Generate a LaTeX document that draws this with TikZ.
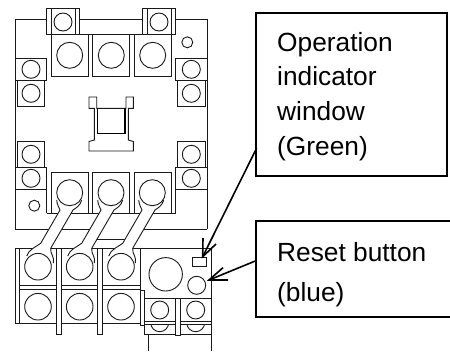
\documentclass[tikz,border=0pt]{standalone}
\usepackage{fontspec}
\setmainfont{Liberation Sans}
\tikzset{
 lin/.style={draw=black!90,line width=0.9pt,fill=white},
 lab/.style={draw=black,line width=1.2pt,fill=white,inner sep=0pt},
 txt/.style={font=\fontsize{26.3pt}{34.7pt}\selectfont,align=left,anchor=north west,inner sep=0pt},
 one/.style={font=\fontsize{26.3pt}{30pt}\selectfont,anchor=base west,inner sep=0pt},
 arr/.style={draw=black,line width=1.6pt}
}
\newcommand{\Circ}[3]{\draw[lin] (#1,#2) circle[radius=#3];}
\newcommand{\Rc}[4]{\draw[lin] (#1,#2) rectangle (#3,#4);}
\begin{document}
\begin{tikzpicture}[x=1pt,y=-1pt]
\useasboundingbox (0,0) rectangle (450,351);
% main body, without its lower edge
\fill[white] (15,19) rectangle (207.3,229);
\draw[lin,fill=none] (15,229)--(15,19)--(207.3,19)--(207.3,229);
\draw[lin] (15,229.3)--(55,229.3) (60,229.3)--(92,229.3) (97,239.3)--(127,239.3) (140,229.3)--(207.3,229.3);
% top terminal blocks
\Rc{46.7}{8}{79.3}{34.3}
\draw[lin] (51,8)--(51,34) (75.3,8)--(75.3,34);
\Rc{142.7}{8}{175.3}{34.3}
\draw[lin] (147,8)--(147,34) (171.3,8)--(171.3,34);
\draw[lin] (46.7,34.3)--(175.3,34.3);
\Circ{63}{22}{9}
\Circ{159}{22}{9}
\Rc{51}{34.3}{88.3}{76}\Rc{92.7}{34.3}{129.3}{76}\Rc{134}{34.3}{171.3}{76}
\Circ{69.7}{55.3}{13}\Circ{111.3}{55.3}{13}\Circ{152.7}{55.3}{13}
\Circ{187.3}{42.3}{5.5}
% side tabs top
\Rc{15}{58.7}{46.7}{80}\Rc{17.3}{80}{44.3}{106.7}
\Rc{175.7}{58.7}{207.3}{80}\Rc{177.7}{80}{205.3}{106.7}
\Circ{31}{69.3}{9}\Circ{31}{93.3}{9}\Circ{191.3}{69.3}{9}\Circ{191.3}{93.3}{9}
% side tabs bottom
\Rc{17.3}{141.3}{44.3}{167.7}\Rc{177.7}{141.3}{205.3}{167.7}
\draw[lin,fill=none] (46.7,189.3)--(15,189.3) (15,167.7)--(46.7,167.7)--(46.7,213.3);
\draw[lin,fill=none] (175.7,189.3)--(207.3,189.3) (207.3,167.7)--(175.7,167.7)--(175.7,213.3);
\Circ{31}{154.3}{9}\Circ{31}{178.3}{9}\Circ{191.3}{154.3}{9}\Circ{191.3}{178.3}{9}
\Circ{34.3}{205.7}{5.5}
% centre
\draw[lin] (89,97)--(96.7,97)--(96.7,108.3)--(126,108.3)--(126,97)--(133.3,97)--(133.3,108.3)--(128.3,108.3)--(128.3,140)--(133.3,141.5)--(133.3,151)--(89,151)--(89,141.5)--(94.3,140)--(94.3,108.3)--(89,108.3)--cycle;
\draw[draw=black,line width=1.3pt] (97.7,108.3)--(97.7,133.3)--(125,133.3)--(125,108.3);
% lower terminals of the upper block
\draw[lin,fill=none] (51,213.3)--(51,172)--(88.3,172)--(88.3,213.3) (92.7,213.3)--(92.7,172)--(129.3,172)--(129.3,213.3) (134,213.3)--(134,172)--(171.3,172)--(171.3,213.3);
\draw[lin] (46.7,213.3)--(175.7,213.3);
% overload body
\Rc{15}{248}{140}{323}
\draw[lin] (19.3,248)--(19.3,323);
\draw[lin] (19.3,285.7)--(140,285.7) (19.3,289.3)--(140,289.3);
\Rc{140}{248}{211}{298.3}
% blades
\Rc{56.7}{248}{61.3}{334}\Rc{97.7}{248}{102.3}{334}
% links
\foreach \o in {0,41,82}{
 \fill[white] (56.7+\o,200) .. controls (57+\o,205) and (59+\o,207) .. (60+\o,210) -- (40.7+\o,243.3) .. controls (36+\o,247) and (29+\o,249) .. (26.7+\o,256) -- (53.3+\o,263) .. controls (55+\o,257) and (50+\o,254) .. (50.7+\o,248.3) -- (73+\o,210) .. controls (76+\o,208) and (80+\o,206) .. (81.7+\o,200) -- cycle;
 \draw[lin,fill=none] (56.7+\o,200) .. controls (57+\o,205) and (59+\o,207) .. (60+\o,210) -- (40.7+\o,243.3) .. controls (36+\o,247) and (29+\o,249) .. (26.7+\o,256);
 \draw[lin,fill=none] (81.7+\o,200) .. controls (80+\o,206) and (76+\o,208) .. (73+\o,210) -- (50.7+\o,248.3) .. controls (50+\o,254) and (55+\o,257) .. (53.3+\o,263);
}
\Circ{69.7}{192.7}{13}\Circ{111}{192.7}{13}\Circ{152.3}{192.7}{13}
\Circ{38}{266.7}{13.3}\Circ{79.7}{266.7}{13.3}\Circ{121}{266.7}{13.3}
\Circ{38}{306.7}{13.3}\Circ{79.7}{306.7}{13.3}\Circ{121}{306.7}{13.3}
% auxiliary block
\Circ{165.7}{274.3}{16.7}
\Rc{192.7}{257.7}{206.7}{266.3}
\Circ{196.7}{285.3}{9}
\Rc{140}{290}{144}{325}
\Rc{144}{298.3}{175.7}{334}\Rc{180}{298.3}{211}{334}
\Rc{175.7}{298.3}{180}{335}
\draw[lin] (144,321.7)--(175.7,321.7) (144,324)--(175.7,324) (180,321.7)--(211,321.7) (180,324)--(211,324);
\Circ{159.7}{310}{9}\Circ{195.7}{310}{9}
\begin{scope}
\clip (145,324) rectangle (210,334);
\draw[lin,fill=none] (159.7,322.7) circle[radius=9] (195.7,322.7) circle[radius=9];
\end{scope}
\draw[lin] (148.3,334)--(148.3,351) (211,334)--(211,351);
% labels
\node[lab,minimum width=191pt,minimum height=163pt] (opbox) at (351.5,94.5) {};
\node[lab,minimum width=200pt,minimum height=96pt] (rebox) at (356,269) {};
\node[txt] (optext) at (277,32) {Operation\\indicator\\window\\(Green)};
\node[one] (retext) at (277,261) {Reset button};
\node[one] (retext2) at (277,301.5) {(blue)};
% arrows
\coordinate (w) at (202.7,256.7);
\coordinate (wa) at (203,238);
\coordinate (wb) at (216,244);
\coordinate (wc) at (256.7,148);
\coordinate (r) at (209,280);
\coordinate (ra) at (223,267.7);
\coordinate (rb) at (228,280);
\coordinate (rc) at (256,260.7);
\draw[arr] (wc)--(w);
\draw[arr] (wa)--(w)--(wb);
\draw[arr] (rc)--(r);
\draw[arr] (ra)--(r)--(rb);
\end{tikzpicture}
\end{document}
